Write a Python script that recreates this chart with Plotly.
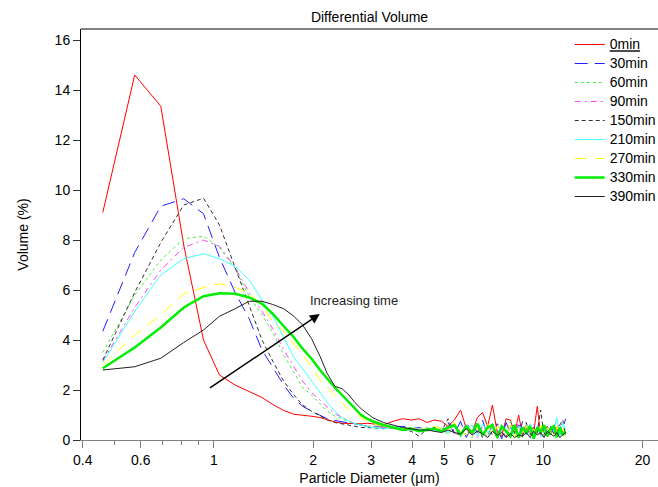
import numpy as np
import plotly.graph_objects as go

# Particle diameters (µm) shared by all measurements
diam = [0.46, 0.575, 0.69, 0.81, 0.93, 1.04, 1.16, 1.28, 1.40, 1.51, 1.63, 1.75, 1.86, 1.98,
        2.10, 2.21, 2.33, 2.45, 2.57, 2.68, 2.80, 2.92, 3.03,
        3.27, 3.50, 3.74, 3.97, 4.20, 4.44, 4.67, 4.91, 5.14, 5.37, 5.61, 5.84, 6.08, 6.31,
        6.54, 6.78, 7.01, 7.25, 7.48, 7.71, 7.95, 8.18, 8.42, 8.65, 8.88, 9.12, 9.35, 9.59,
        9.82, 10.05, 10.29, 10.52, 10.76, 10.99, 11.22, 11.46, 11.69]

# Differential volume (%) at each diameter, one list per sampling time
vol_0 = [9.1, 14.6, 13.35, 7.8, 4.0, 2.6, 2.2, 1.95, 1.7, 1.42, 1.18, 1.03, 1.0, 0.95,
         0.9, 0.8, 0.72, 0.67, 0.66, 0.64, 0.65, 0.67, 0.65,
         0.6, 0.75, 0.85, 0.8, 0.85, 0.7, 0.8, 0.75, 0.55, 0.8, 1.2, 0.45, 0.3, 0.9,
         1.1, 0.55, 1.4, 0.3, 0.15, 0.85, 0.8, 0.25, 1.0, 0.2, 0.45, 0.6, 0.3, 1.35,
         0.2, 0.6, 0.3, 0.5, 0.25, 0.45, 0.2, 0.35, 0.3]
vol_30 = [4.35, 7.5, 9.35, 9.65, 9.05, 7.3, 5.9, 4.85, 3.6, 2.9, 2.2, 1.65, 1.35, 1.15,
          1.0, 0.85, 0.78, 0.72, 0.68, 0.65, 0.6, 0.55, 0.55,
          0.55, 0.5, 0.55, 0.45, 0.5, 0.4, 0.45, 0.35,
          0.7, 0.25, 0.75, 0.1, 0.6, 0.3, 0.8, 0.15, 0.65, 0.4,
          0.05, 0.7, 0.3, 0.55, 0.1, 0.75, 0.2, 0.5, 0.1, 0.6,
          0.35, 0.7, 0.15, 0.55, 0.3, 0.65, 0.2, 0.45, 0.85]
vol_60 = [3.5, 5.8, 7.2, 8.05, 8.15, 7.7, 6.85, 5.75, 5.0, 4.3, 3.4, 2.7, 2.1, 1.8,
          1.45, 1.15, 0.95, 0.85, 0.75, 0.65, 0.6, 0.55, 0.55,
          0.5, 0.55, 0.45, 0.5, 0.4, 0.5, 0.35, 0.5,
          0.2, 0.65, 0.3, 0.55, 0.1, 0.7, 0.35, 0.15, 0.6, 0.05,
          0.5, 0.3, 0.75, 0.2, 0.55, 0.1, 0.65, 0.15, 0.5, 0.35,
          0.6, 0.1, 0.55, 0.25, 0.5, 0.1, 0.6, 0.35, 0.2]
vol_90 = [3.15, 5.3, 6.8, 7.7, 8.0, 7.75, 6.9, 5.9, 5.15, 4.45, 3.6, 2.9, 2.35, 1.9,
          1.6, 1.35, 1.05, 0.9, 0.75, 0.65, 0.6, 0.55, 0.55,
          0.5, 0.45, 0.5, 0.4, 0.45, 0.35, 0.45, 0.35,
          0.6, 0.3, 0.15, 0.7, 0.35, 0.1, 0.55, 0.6, 0.2, 0.65,
          0.3, 0.1, 0.55, 0.4, 0.7, 0.15, 0.5, 0.2, 0.65, 0.3,
          0.1, 0.6, 0.4, 0.2, 0.6, 0.45, 0.7, 0.55, 0.25]
vol_150 = [3.2, 5.9, 7.9, 9.4, 9.67, 8.6, 6.9, 5.4, 4.0, 3.15, 2.35, 1.8, 1.4, 1.15,
           0.95, 0.8, 0.7, 0.65, 0.6, 0.55, 0.5, 0.5, 0.48,
           0.45, 0.5, 0.4, 0.35, 0.15, 0.45, 0.5, 0.35,
           0.85, 0.3, 0.2, 0.6, 0.25, 0.5, 0.1, 0.55, 0.2, 0.65,
           0.4, 0.1, 0.5, 0.3, 0.6, 0.15, 0.7, 0.2, 0.5, 0.3,
           1.2, 0.2, 0.55, 0.15, 0.5, 0.3, 0.6, 0.8, 0.2]
vol_210 = [3.1, 5.15, 6.6, 7.25, 7.45, 7.25, 6.95, 6.4, 5.6, 4.95, 4.1, 3.3, 2.85, 2.35,
           1.9, 1.5, 1.15, 0.9, 0.75, 0.65, 0.6, 0.55, 0.5,
           0.45, 0.5, 0.5, 0.4, 0.45, 0.45, 0.35, 0.45,
           0.3, 0.6, 0.2, 0.5, 0.6, 0.15, 0.65, 0.3, 0.45, 0.1,
           0.6, 0.3, 0.5, 0.15, 0.55, 0.45, 0.2, 0.65, 0.25, 0.5,
           0.15, 0.6, 0.35, 0.25, 0.35, 0.9, 0.15, 0.7, 0.4]
vol_270 = [3.0, 4.2, 5.0, 5.85, 6.1, 6.25, 6.1, 5.9, 5.35, 4.75, 4.35, 3.85, 3.4, 2.95,
           2.4, 2.1, 1.8, 1.5, 1.2, 1.1, 0.9, 0.75, 0.65,
           0.55, 0.5, 0.45, 0.5, 0.4, 0.5, 0.55, 0.45,
           0.3, 0.7, 0.35, 0.2, 0.6, 0.45, 0.25, 0.65, 0.15, 0.55,
           0.4, 0.2, 0.6, 0.1, 0.5, 0.3, 0.55, 0.2, 0.45, 0.15,
           0.6, 0.25, 0.5, 0.3, 0.1, 0.55, 0.2, 0.45, 0.15]
vol_330 = [2.87, 3.7, 4.5, 5.3, 5.75, 5.87, 5.85, 5.7, 5.45, 5.05, 4.55, 4.1, 3.65, 3.25,
           2.8, 2.45, 2.1, 1.8, 1.5, 1.25, 1.0, 0.85, 0.75,
           0.6, 0.5, 0.4, 0.45, 0.35, 0.4, 0.45, 0.35,
           0.5, 0.6, 0.2, 0.55, 0.3, 0.65, 0.2, 0.5, 0.6, 0.1,
           0.55, 0.35, 0.15, 0.6, 0.1, 0.5, 0.3, 0.55, 0.05, 0.5,
           0.3, 0.6, 0.15, 0.45, 0.55, 0.1, 0.5, 0.2, 0.35]
vol_390 = [2.8, 2.93, 3.27, 3.9, 4.4, 4.95, 5.25, 5.55, 5.55, 5.42, 5.25, 4.95, 4.6, 4.05,
           3.35, 2.65, 2.15, 2.05, 1.8, 1.5, 1.25, 1.05, 0.9,
           0.7, 0.6, 0.5, 0.45, 0.4, 0.4, 0.35, 0.3,
           0.4, 0.3, 0.25, 0.45, 0.2, 0.35, 0.25, 0.1, 0.35, 0.2,
           0.3, 0.1, 0.25, 0.1, 0.2, 0.15, 0.3, 0.1, 0.35, 0.2,
           0.3, 0.1, 0.35, 0.25, 0.15, 0.3, 0.1, 0.2, 0.3]

series_names = ["<u>0min</u>", "30min", "60min", "90min", "150min",
                "210min", "270min", "330min", "390min"]
series_values = [vol_0, vol_30, vol_60, vol_90, vol_150,
                 vol_210, vol_270, vol_330, vol_390]
series_styles = [
    dict(color="#ff0000", width=1, dash="solid"),
    dict(color="#2020ff", width=1, dash="13px,7px"),
    dict(color="#44ee44", width=1, dash="3px,3px"),
    dict(color="#ff44ff", width=1, dash="6px,4px,2px,4px"),
    dict(color="#333333", width=1, dash="4px,3px"),
    dict(color="#44ffff", width=1, dash="solid"),
    dict(color="#ffff00", width=1, dash="12px,8px"),
    dict(color="#00ee00", width=2.5, dash="solid"),
    dict(color="#222222", width=1, dash="solid"),
]

x_ticks = [0.4, 0.6, 1, 2, 3, 4, 5, 6, 7, 10, 20]
x_tick_text = ["0.4", "0.6", "1", "2", "3", "4", "5", "6", "7", "10", "20"]
x_minor_ticks = [0.5, 0.7, 0.8, 0.9, 8, 9]
y_ticks = [0, 2, 4, 6, 8, 10, 12, 14, 16]

FONT = "Liberation Sans, Arial, sans-serif"
PLOT_H = 411              # plot-area height in px
LEGEND_SIZE = 16 / 1.3    # gives whole-pixel legend rows of 19 px

fig = go.Figure()
for name, vals, style in zip(series_names, series_values, series_styles):
    # legend rows are spaced by the legend font size; the label itself is drawn larger
    label = f'<span style="font-size:14px">{name}</span>'
    fig.add_trace(go.Scatter(x=diam, y=vals, mode="lines", name=label, line=style))

# Arrow showing the shift of the distribution with time
arrow_tail = (0.963, 2.04)
arrow_head = (2.096, 5.04)
fig.add_annotation(x=np.log10(arrow_head[0]), y=arrow_head[1],
                   ax=np.log10(arrow_tail[0]), ay=arrow_tail[1],
                   xref="x", yref="y", axref="x", ayref="y",
                   showarrow=True, arrowhead=2, arrowsize=1.3, arrowwidth=1.5,
                   arrowcolor="black", text="")
fig.add_annotation(x=np.log10(1.925), y=5.6, xref="x", yref="y",
                   text="Increasing time", showarrow=False, xanchor="left",
                   yanchor="middle", font=dict(family=FONT, size=13, color="#222222"))

# Black frame line along the top of the plot area
fig.add_shape(type="line", xref="paper", yref="paper", x0=0, x1=1, y0=1, y1=1,
              line=dict(color="black", width=1))

fig.update_layout(
    width=658, height=487,
    margin=dict(l=81, r=0, t=29, b=47, autoexpand=False),
    paper_bgcolor="white", plot_bgcolor="white",
    font=dict(family=FONT, size=14, color="black"),
    title=dict(text="Differential Volume", x=0.5, xref="paper", xanchor="center",
               y=1 - 17 / 487, yref="container", yanchor="middle",
               font=dict(family=FONT, size=14, color="black")),
    showlegend=True,
    legend=dict(x=0.847, y=1 - 1 / PLOT_H, xanchor="left", yanchor="top",
                bgcolor="rgba(0,0,0,0)", borderwidth=0,
                font=dict(family=FONT, size=LEGEND_SIZE, color="black")),
)
fig.update_xaxes(
    type="log", range=[np.log10(0.395), np.log10(22.3)],
    tickmode="array", tickvals=x_ticks, ticktext=x_tick_text,
    ticks="outside", ticklen=7, tickcolor="#808080", tickwidth=1,
    showline=True, linecolor="#808080", linewidth=1, mirror=False,
    showgrid=False, zeroline=False,
    tickfont=dict(family=FONT, size=14, color="black"),
    title=dict(text="Particle Diameter (µm)", font=dict(family=FONT, size=14, color="black"),
               standoff=6),
    minor=dict(tickmode="array", tickvals=x_minor_ticks, ticks="outside", ticklen=4,
               tickcolor="#808080", showgrid=False),
)
fig.update_yaxes(
    range=[0, PLOT_H / 25], tickmode="array", tickvals=y_ticks,
    ticks="outside", ticklen=7, tickcolor="#333333", tickwidth=1,
    showline=True, linecolor="black", linewidth=1,
    showgrid=False, zeroline=False,
    tickfont=dict(family=FONT, size=14, color="black"),
    title=dict(text="Volume (%)", font=dict(family=FONT, size=14, color="black"),
               standoff=22),
)

fig.write_html("out.html")
